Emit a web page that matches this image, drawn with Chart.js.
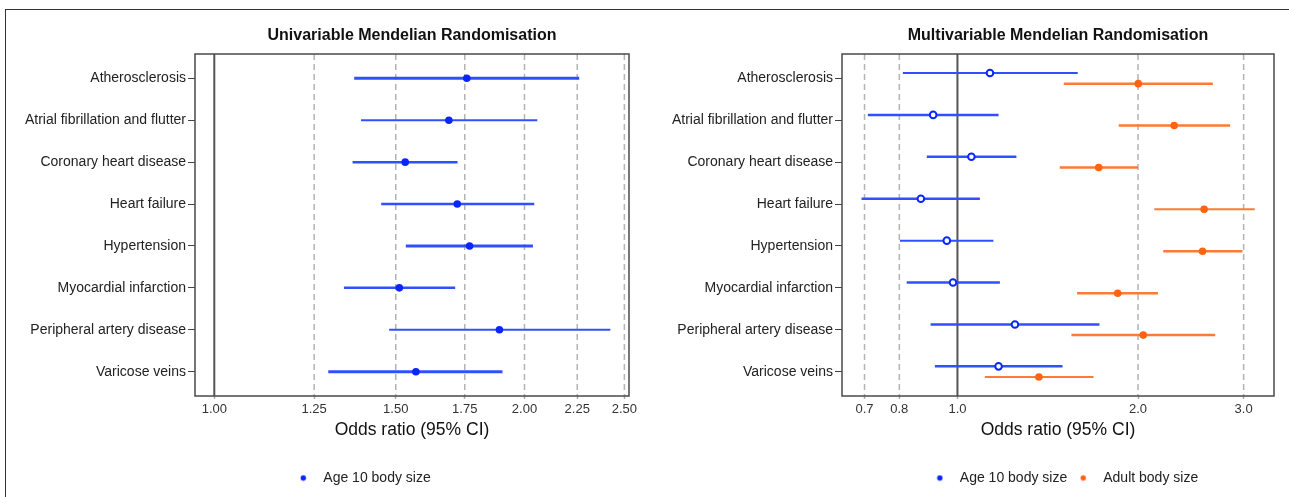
<!DOCTYPE html>
<html><head><meta charset="utf-8">
<script src="https://cdn.jsdelivr.net/npm/chart.js@4/dist/chart.umd.min.js"></script>
<style>
html,body{margin:0;padding:0;width:1289px;height:497px;overflow:hidden;background:#fff;}
#frame{position:absolute;left:5px;top:9px;width:1400px;height:600px;border-left:1.5px solid #333;border-top:1.5px solid #333;}
#c1{position:absolute;left:0;top:0;}
#c2{position:absolute;left:645px;top:0;}
</style></head><body>
<div id="frame"></div>
<canvas id="c1" width="721" height="497"></canvas>
<canvas id="c2" width="835" height="497"></canvas>
<script>
// ---- data ----
const categories = ["Atherosclerosis","Atrial fibrillation and flutter","Coronary heart disease","Heart failure","Hypertension","Myocardial infarction","Peripheral artery disease","Varicose veins"];
const uniOR = [1.758, 1.689, 1.532, 1.721, 1.769, 1.512, 1.891, 1.569];
const uniLo = [1.367, 1.388, 1.362, 1.452, 1.534, 1.336, 1.478, 1.290];
const uniHi = [2.260, 2.058, 1.722, 2.044, 2.038, 1.713, 2.423, 1.904];
const mvAgeOR = [1.133, 0.911, 1.055, 0.869, 0.960, 0.983, 1.247, 1.171];
const mvAgeLo = [0.811, 0.709, 0.889, 0.692, 0.802, 0.823, 0.902, 0.917];
const mvAgeHi = [1.587, 1.171, 1.254, 1.090, 1.148, 1.177, 1.725, 1.497];
const mvAdultOR = [2.002, 2.298, 1.720, 2.578, 2.562, 1.850, 2.041, 1.367];
const mvAdultLo = [1.504, 1.857, 1.481, 2.129, 2.204, 1.583, 1.549, 1.111];
const mvAdultHi = [2.666, 2.848, 2.000, 3.131, 2.986, 2.159, 2.690, 1.686];
const uniTicks = [1.00, 1.25, 1.50, 1.75, 2.00, 2.25, 2.50];
const mvTicks = [0.7, 0.8, 1.0, 2.0, 3.0];
const seriesNames = ["Age 10 body size", "Adult body size"];

// ---- styles ----
const FONT = "'Liberation Sans', Arial, sans-serif";
const BLUE_PT = '#0a26ff', BLUE_LN = '#3050ff';
const ORANGE_PT = '#ff6414', ORANGE_LN = '#ff7a36';
const uniWidths = [3, 2, 2.5, 2.5, 3, 2.5, 2, 3];
const ageWidths = [2, 2.5, 2.5, 2.5, 2, 2.5, 2.5, 2.5];
const adultWidths = [2.5, 2.5, 2.5, 2, 2.5, 2.5, 2.5, 2];
const OFFSET = 0.127;

function dotCanvas(color){
  const c = document.createElement('canvas'); c.width = 7; c.height = 7;
  const g = c.getContext('2d'); g.fillStyle = color; g.beginPath(); g.arc(3.5,3.5,2.7,0,Math.PI*2); g.fill();
  return c;
}

function makeChart(canvas, cfg){
  const decorPlugin = {
    id: 'decor',
    beforeDatasetsDraw(chart){
      const {ctx, chartArea: a, scales: {x, y}} = chart;
      ctx.save();
      ctx.setLineDash([6,4]); ctx.strokeStyle = '#b3b3b3'; ctx.lineWidth = 1.5;
      cfg.ticks.forEach(v => {
        if (v === 1) return;
        const px = x.getPixelForValue(v);
        ctx.beginPath(); ctx.moveTo(px, a.top); ctx.lineTo(px, a.bottom); ctx.stroke();
      });
      ctx.setLineDash([]);
      const p1 = x.getPixelForValue(1);
      ctx.strokeStyle = '#555'; ctx.lineWidth = 2;
      ctx.beginPath(); ctx.moveTo(p1, a.top); ctx.lineTo(p1, a.bottom); ctx.stroke();
      ctx.strokeStyle = '#4a4a4a'; ctx.lineWidth = 1.5;
      ctx.strokeRect(a.left, a.top, a.right - a.left, a.bottom - a.top);
      ctx.lineCap = 'butt';
      cfg.ci.forEach(s => {
        ctx.strokeStyle = s.color;
        s.lo.forEach((lo, i) => {
          const py = y.getPixelForValue(i + s.offset);
          ctx.lineWidth = s.widths[i];
          ctx.beginPath(); ctx.moveTo(x.getPixelForValue(lo), py); ctx.lineTo(x.getPixelForValue(s.hi[i]), py); ctx.stroke();
        });
      });
      ctx.restore();
    }
  };
  const dots = cfg.legendColors.map(dotCanvas);
  return new Chart(canvas, {
    type: 'scatter',
    data: { datasets: cfg.datasets },
    plugins: [decorPlugin],
    options: {
      responsive: false, animation: false,
      layout: { padding: { left: 0, right: 0, top: 0, bottom: 2 } },
      plugins: {
        tooltip: { enabled: false },
        title: { display: true, text: cfg.title, fullSize: false, color: '#111',
          font: { family: FONT, size: 16, weight: 'bold' }, padding: { top: 25.5, bottom: 9.3 } },
        legend: { position: 'bottom',
          labels: { usePointStyle: true, pointStyleWidth: 26, padding: 3, color: '#222',
            font: { family: FONT, size: 14 },
            generateLabels(chart){
              const items = Chart.defaults.plugins.legend.labels.generateLabels(chart);
              return items.map((it, i) => Object.assign(it, { pointStyle: dots[i] }));
            } } }
      },
      scales: {
        x: { type: 'logarithmic', min: cfg.xMin, max: cfg.xMax, bounds: 'data',
          afterBuildTicks: s => { s.ticks = cfg.ticks.map(v => ({ value: v })); },
          ticks: { autoSkip: false, maxRotation: 0, padding: 3, color: '#333',
            font: { family: FONT, size: 13 }, callback: v => Number(v).toFixed(cfg.decimals) },
          grid: { display: true, drawOnChartArea: false, drawTicks: true, tickLength: 3, tickColor: '#aaa', tickWidth: 1.5 },
          border: { display: false },
          title: { display: true, text: 'Odds ratio (95% CI)', color: '#111',
            font: { family: FONT, size: 17.5 }, padding: { top: 0, bottom: 27.5 } },
          afterFit: s => { s.height = 72; } },
        y: { type: 'linear', min: -0.58, max: 7.58, reverse: true, bounds: 'data',
          afterBuildTicks: s => { s.ticks = categories.map((_, i) => ({ value: i })); },
          ticks: { autoSkip: false, padding: 2, color: '#222', font: { family: FONT, size: 14 },
            callback: v => categories[v] },
          grid: { display: true, drawOnChartArea: false, drawTicks: true, tickLength: 7, tickColor: '#444', tickWidth: 1 },
          border: { display: false },
          afterFit: s => { s.width = cfg.yWidth; } },
        yR: { axis: 'y', position: 'right', display: true,
          grid: { display: false }, ticks: { display: false }, border: { display: false },
          afterFit: s => { s.width = cfg.spacer; } }
      }
    }
  });
}

makeChart(document.getElementById('c1'), {
  title: 'Univariable Mendelian Randomisation',
  xMin: 0.9578, xMax: 2.526, ticks: uniTicks, decimals: 2,
  yWidth: 195, spacer: 92,
  legendColors: [BLUE_PT],
  datasets: [{
    label: seriesNames[0],
    data: uniOR.map((v, i) => ({ x: v, y: i })),
    pointStyle: 'circle', pointRadius: 3.8, backgroundColor: BLUE_PT, borderColor: BLUE_PT, borderWidth: 0
  }],
  ci: [{ lo: uniLo, hi: uniHi, offset: 0, color: BLUE_LN, widths: uniWidths }]
});

makeChart(document.getElementById('c2'), {
  title: 'Multivariable Mendelian Randomisation',
  xMin: 0.642, xMax: 3.371, ticks: mvTicks, decimals: 1,
  yWidth: 197, spacer: 206,
  legendColors: [BLUE_PT, ORANGE_PT],
  datasets: [{
    label: seriesNames[0],
    data: mvAgeOR.map((v, i) => ({ x: v, y: i - OFFSET })),
    pointStyle: 'circle', pointRadius: 3.3, backgroundColor: '#ffffff', borderColor: BLUE_PT, borderWidth: 2
  }, {
    label: seriesNames[1],
    data: mvAdultOR.map((v, i) => ({ x: v, y: i + OFFSET })),
    pointStyle: 'circle', pointRadius: 3.8, backgroundColor: ORANGE_PT, borderColor: ORANGE_PT, borderWidth: 0
  }],
  ci: [
    { lo: mvAgeLo, hi: mvAgeHi, offset: -OFFSET, color: BLUE_LN, widths: ageWidths },
    { lo: mvAdultLo, hi: mvAdultHi, offset: OFFSET, color: ORANGE_LN, widths: adultWidths }
  ]
});
</script>
</body></html>
